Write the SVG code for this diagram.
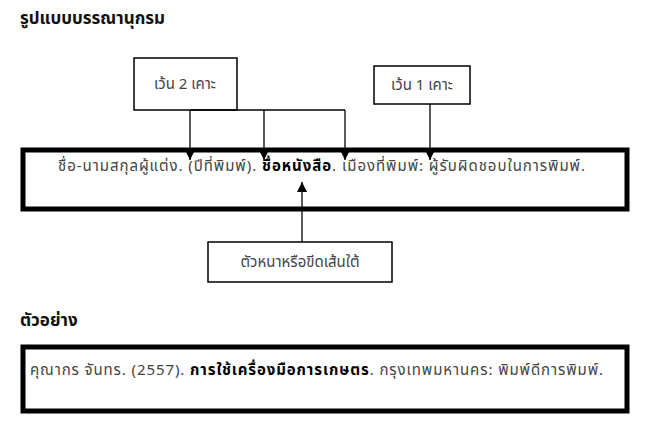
<svg xmlns="http://www.w3.org/2000/svg" width="650" height="440" viewBox="0 0 650 440">
<style>
text{font-family:"Noto Sans Thai","Tahoma","Noto Sans",sans-serif;fill:#444}
.h{font-weight:bold;font-size:17px;fill:#111}
.t{font-size:15px}
.box{fill:#fff;stroke:#000;stroke-width:1.5}
.big{fill:#fff;stroke:#000;stroke-width:5}
.c{stroke:#000;stroke-width:1.3;fill:none}
</style>
<defs><marker id="b" markerWidth="10" markerHeight="10" refX="10" refY="5" orient="auto" markerUnits="userSpaceOnUse" viewBox="0 0 10 10"><path d="M0,0 L10,5 L0,10 z" fill="#000"/></marker></defs>
<text class="h" x="20" y="24">รูปแบบบรรณานุกรม</text>
<g id="main"><rect class="big" x="23" y="150" width="604" height="59"/>
<text class="t" x="58" y="171" textLength="527" lengthAdjust="spacing">ชื่อ-นามสกุลผู้แต่ง.  (ปีที่พิมพ์). <tspan font-weight="bold" fill="#000">ชื่อหนังสือ</tspan>.  เมืองที่พิมพ์: ผู้รับผิดชอบในการพิมพ์.</text></g>
<g id="n2"><rect class="box" x="134" y="58" width="103" height="52"/><text class="t" x="185" y="89" text-anchor="middle">เว้น 2 เคาะ</text></g>
<g id="n1"><rect class="box" x="374" y="66" width="96" height="38"/><text class="t" x="422" y="90" text-anchor="middle">เว้น 1 เคาะ</text></g>
<g id="n3"><rect class="box" x="208" y="242" width="184" height="40"/><text class="t" x="300" y="267" text-anchor="middle">ตัวหนาหรือขีดเส้นใต้</text></g>
<g id="connectors">
<line class="c" x1="190" y1="110" x2="345" y2="110"/>
<line class="c" x1="190" y1="110" x2="190" y2="160" marker-end="url(#b)"/>
<line class="c" x1="264" y1="110" x2="264" y2="160" marker-end="url(#b)"/>
<line class="c" x1="345" y1="110" x2="345" y2="160" marker-end="url(#b)"/>
<line class="c" x1="430" y1="104" x2="430" y2="160" marker-end="url(#b)"/>
<line class="c" x1="302" y1="242" x2="302" y2="182" marker-end="url(#b)"/>
</g>
<text class="h" x="20" y="326" font-size="15">ตัวอย่าง</text>
<g id="example"><rect class="big" x="23" y="347" width="604" height="64"/>
<text class="t" x="30" y="375" textLength="573" lengthAdjust="spacing">คุณากร จันทร.  (2557). <tspan font-weight="bold" fill="#000">การใช้เครื่องมือการเกษตร</tspan>.  กรุงเทพมหานคร: พิมพ์ดีการพิมพ์.</text></g>
</svg>
